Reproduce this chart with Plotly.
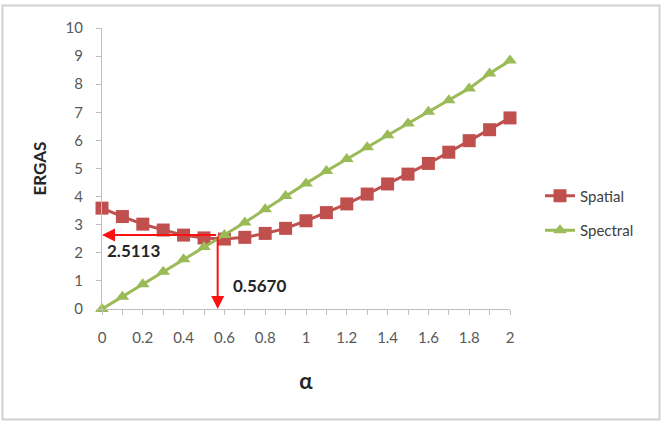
import plotly.graph_objects as go

# ---- data ----
alpha = [0.0, 0.1, 0.2, 0.3, 0.4, 0.5, 0.6, 0.7, 0.8, 0.9, 1.0,
         1.1, 1.2, 1.3, 1.4, 1.5, 1.6, 1.7, 1.8, 1.9, 2.0]
spatial = [3.59, 3.29, 3.02, 2.81, 2.63, 2.53, 2.49, 2.55, 2.69, 2.87, 3.14,
           3.43, 3.74, 4.09, 4.45, 4.80, 5.18, 5.58, 5.99, 6.38, 6.80]
spectral = [0.0, 0.44, 0.88, 1.33, 1.77, 2.21, 2.63, 3.08, 3.55, 4.02, 4.47,
            4.91, 5.34, 5.76, 6.18, 6.60, 7.02, 7.43, 7.85, 8.38, 8.84]
x_ticks = [0, 0.2, 0.4, 0.6, 0.8, 1, 1.2, 1.4, 1.6, 1.8, 2]
x_tick_labels = ["0", "0.2", "0.4", "0.6", "0.8", "1", "1.2", "1.4", "1.6", "1.8", "2"]
alpha_opt = 0.5670
ergas_opt = 2.5113
arrow_level = 2.63  # height where the curves cross in the picture

W, H = 662, 424
ML, MR, MT, MB = 102, 152, 28, 115
pw, ph = W - ML - MR, H - MT - MB

def px_to_paper_x(p):
    return (p - ML) / pw

def px_to_paper_y(p):
    return (H - MB - p) / ph

RED = "#C0504D"
GREEN = "#9BBB59"
ARROW = "#FF1010"
FONT = "Lato"

fig = go.Figure()
fig.add_trace(go.Scatter(
    x=alpha, y=spatial, name="Spatial", mode="lines+markers",
    line=dict(color=RED, width=3),
    marker=dict(symbol="square", size=13, color=RED),
    cliponaxis=False, legendgroup="a"))
fig.add_trace(go.Scatter(
    x=alpha, y=spectral, name="Spectral", mode="lines+markers",
    line=dict(color=GREEN, width=3),
    marker=dict(symbol="triangle-up", size=12, color=GREEN),
    cliponaxis=False, legendgroup="b"))

# arrows
fig.add_annotation(x=0, y=arrow_level, ax=alpha_opt, ay=arrow_level,
                   xref="x", yref="y", axref="x", ayref="y",
                   showarrow=True, arrowhead=2, arrowsize=1.3, arrowwidth=2,
                   arrowcolor=ARROW, text="")
fig.add_annotation(x=alpha_opt, y=0, ax=alpha_opt, ay=arrow_level,
                   xref="x", yref="y", axref="x", ayref="y",
                   showarrow=True, arrowhead=2, arrowsize=1.3, arrowwidth=2,
                   arrowcolor=ARROW, text="")
fig.add_annotation(x=0.015, y=arrow_level - 0.12, xref="x", yref="y",
                   text="<b>%.4f</b>" % ergas_opt, showarrow=False,
                   xanchor="left", yanchor="top",
                   font=dict(family=FONT, size=17, color="#262626"))
fig.add_annotation(x=alpha_opt + 0.065, y=0.85, xref="x", yref="y",
                   text="<b>%.4f</b>" % alpha_opt, showarrow=False,
                   xanchor="left", yanchor="middle",
                   font=dict(family=FONT, size=17, color="#262626"))

# outer border
fig.add_shape(type="rect", xref="paper", yref="paper",
              x0=px_to_paper_x(2.5), x1=px_to_paper_x(659.5),
              y0=px_to_paper_y(419.5), y1=px_to_paper_y(5.5),
              line=dict(color="#D0D0D0", width=2), fillcolor="rgba(0,0,0,0)")

fig.update_layout(
    width=W, height=H,
    margin=dict(l=ML, r=MR, t=MT, b=MB),
    paper_bgcolor="white", plot_bgcolor="white",
    font=dict(family=FONT, color="#595959"),
    showlegend=True,
    legend=dict(x=px_to_paper_x(540), y=px_to_paper_y(213),
                xanchor="left", yanchor="middle",
                font=dict(family=FONT, size=15, color="#404040"),
                tracegroupgap=12, bgcolor="rgba(0,0,0,0)"),
    xaxis=dict(range=[0, 2], tickvals=x_ticks, ticktext=x_tick_labels,
               showgrid=False, zeroline=False, showline=True,
               linecolor="#BFBFBF", linewidth=1,
               ticks="outside", ticklen=5, tickcolor="#BFBFBF",
               ticklabelstandoff=10,
               minor=dict(dtick=0.1, tick0=0, ticks="outside", ticklen=5,
                          tickcolor="#BFBFBF", showgrid=False),
               tickfont=dict(family=FONT, size=15, color="#595959"),
               title=dict(text="<b>α</b>", standoff=28,
                          font=dict(family=FONT, size=22, color="#262626"))),
    yaxis=dict(range=[0, 10], dtick=1, tick0=0,
               showgrid=False, zeroline=False, showline=True,
               linecolor="#BFBFBF", linewidth=1,
               ticks="outside", ticklen=5, tickcolor="#BFBFBF",
               ticklabelstandoff=10,
               tickfont=dict(family=FONT, size=15, color="#595959"),
               title=dict(text="<b>ERGAS</b>", standoff=14,
                          font=dict(family=FONT, size=17, color="#262626"))),
)

fig.write_html("out.html")
